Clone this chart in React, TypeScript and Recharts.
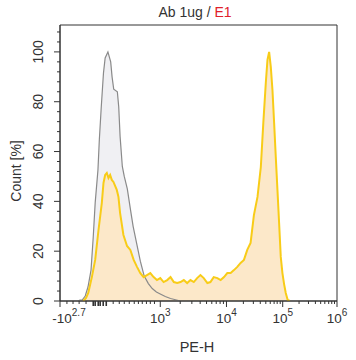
import React from "react"
import { ComposedChart, Area, Line, XAxis, YAxis, ReferenceArea } from "recharts"

// display channels 0..1000 (logicle-like scale), counts in % of max
const grayX = [65, 72, 80, 91, 101, 112, 120, 127, 137, 142, 149, 157, 163, 173, 183, 188, 194, 207, 212, 217, 225, 232, 243, 254, 264, 275, 290, 304, 319, 333, 348, 362, 380, 399, 417, 435]
const grayY = [0, 0.4, 0.4, 2, 5.6, 12.4, 25.7, 39.4, 52.6, 64.7, 78, 91.6, 97.6, 100, 96, 90, 85, 84, 78, 66, 54, 50, 45, 37, 30, 24, 16, 10, 7, 5, 3.6, 2.8, 1.8, 1, 0.5, 0]

const yellowX = [84, 94, 102, 115, 127, 139, 151, 157, 163, 169, 175, 181, 187, 193, 205, 211, 217, 229, 242, 254, 266, 278, 290, 302, 314, 326, 338, 350, 362, 374, 387, 399, 411, 423, 435, 447, 459, 471, 483, 495, 507, 519, 532, 543, 555, 568, 580, 592, 604, 616, 628, 640, 652, 664, 676, 688, 700, 713, 725, 734, 743, 749, 755, 761, 767, 773, 779, 785, 791, 797, 803, 809, 815, 822, 830]
const yellowY = [0, 1.2, 3.2, 9.6, 16.5, 28.5, 39.4, 47.4, 50.6, 51.4, 49.4, 50.6, 48.6, 47.8, 44.6, 41.8, 35.3, 26.5, 22.1, 20.5, 16.5, 13.7, 11.2, 9.6, 10.4, 11.2, 9.6, 8.4, 9.2, 7.6, 8.4, 9.6, 7.6, 7.2, 7.6, 8.4, 7.2, 8.4, 7.6, 9.2, 10.4, 9.2, 7.2, 7.6, 9.6, 9.2, 8.4, 9.6, 11.2, 11.2, 12.4, 13.7, 15.3, 16.5, 20.5, 23.3, 34.5, 41.8, 53.8, 71.5, 87.6, 96.8, 100, 94, 84.7, 71.5, 57.8, 44.6, 31.3, 17.7, 11.2, 6.8, 3.2, 0.4, 0]

const majorX = [0, 362, 601, 804, 1000]
const majorLabels = [["-10", "2.7"], ["10", "3"], ["10", "4"], ["10", "5"], ["10", "6"]]
const boldX = [120, 127, 138, 145, 156, 167]
const minorX = [25, 47, 69, 94, 192, 214, 232, 250, 268, 283, 297, 312, 326, 341,
  434, 476, 506, 529, 548, 564, 578, 590,
  662, 698, 723, 743, 759, 773, 784, 795,
  863, 897, 922, 941, 956, 970, 981, 991]
const yMajor = [0, 20, 40, 60, 80, 100]
const yMinor = [4, 8, 12, 16, 24, 28, 32, 36, 44, 48, 52, 56, 64, 68, 72, 76, 84, 88, 92, 96, 104, 108]

const gray = grayX.map((x, i) => ({ x, y: grayY[i] }))
const yellow = yellowX.map((x, i) => ({ x, y: yellowY[i] }))
const xTicks = [...majorX, ...boldX, ...minorX].sort((a, b) => a - b)
const yTicks = [...yMajor, ...yMinor].sort((a, b) => a - b)

const FONT = "'Liberation Sans', Arial, sans-serif"
const AXIS = "#333"

const XTick = ({ x, y, payload }: any) => {
  const v = payload.value
  const mi = majorX.indexOf(v)
  const bold = boldX.includes(v)
  const len = mi >= 0 ? 6 : bold ? 5 : 3
  return (
    <g>
      <line x1={x} x2={x} y1={y} y2={y + len} stroke={AXIS} strokeWidth={bold ? 1.6 : 1} />
      {mi >= 0 && (
        <text x={x + (mi === 0 ? 9 : 0)} y={y + 22} textAnchor="middle" fontSize={13.5} fill={AXIS} fontFamily={FONT}>
          <tspan>{majorLabels[mi][0]}</tspan>
          <tspan dy={-7} fontSize={10}>{majorLabels[mi][1]}</tspan>
        </text>
      )}
    </g>
  )
}

const YTick = ({ x, y, payload }: any) => {
  const v = payload.value
  const major = yMajor.includes(v)
  const len = major ? 6 : 3
  return (
    <g>
      <line x1={x - len} x2={x} y1={y} y2={y} stroke={AXIS} />
      {major && (
        <text x={x - 17} y={y} transform={`rotate(-90 ${x - 17} ${y})`} textAnchor="middle" fontSize={14} fill={AXIS} fontFamily={FONT}>
          {v}
        </text>
      )}
    </g>
  )
}

export default function App() {
  return (
    <div style={{ position: "absolute", left: 0, top: 0, width: 356, height: 360, background: "#fff" }}>
      <ComposedChart width={356} height={360} margin={{ top: 25, right: 19, bottom: 0, left: 0 }}>
        <XAxis
          type="number"
          dataKey="x"
          domain={[0, 1000]}
          ticks={xTicks}
          interval={0}
          tickSize={0}
          tickMargin={0}
          tickLine={false}
          tick={(p: any) => <XTick {...p} />}
          axisLine={{ stroke: AXIS }}
          height={59}
          allowDataOverflow
        />
        <YAxis
          type="number"
          domain={[0, 110.8]}
          ticks={yTicks}
          interval={0}
          tickSize={0}
          tickMargin={0}
          tickLine={false}
          tick={(p: any) => <YTick {...p} />}
          axisLine={{ stroke: AXIS }}
          width={60}
          allowDataOverflow
        />
        <Area data={gray} dataKey="y" type="linear" fill="#f0f0f3" fillOpacity={1} stroke="none" isAnimationActive={false} />
        <Area data={yellow} dataKey="y" type="linear" fill="#fce8c9" fillOpacity={1} stroke="none" isAnimationActive={false} />
        <Line data={gray} dataKey="y" type="linear" stroke="#8a8a8a" strokeWidth={1.2} dot={false} isAnimationActive={false} />
        <Line data={yellow} dataKey="y" type="linear" stroke="#f8cc18" strokeWidth={2} dot={false} isAnimationActive={false} />
        <ReferenceArea x1={0} x2={1000} y1={0} y2={110.8} fill="none" stroke={AXIS} strokeWidth={1} />
      </ComposedChart>
      <svg width={356} height={360} style={{ position: "absolute", left: 0, top: 0, pointerEvents: "none" }}>
        <text x={195} y={17} textAnchor="middle" fontSize={14} fontFamily={FONT} fill={AXIS}>
          <tspan>Ab 1ug / </tspan>
          <tspan fill="#e0202a">E1</tspan>
        </text>
        <text x={197} y={352} textAnchor="middle" fontSize={14.5} fontFamily={FONT} fill={AXIS}>PE-H</text>
        <text x={21} y={171} transform="rotate(-90 21 171)" textAnchor="middle" fontSize={14} fontFamily={FONT} fill={AXIS}>Count [%]</text>
      </svg>
    </div>
  )
}
